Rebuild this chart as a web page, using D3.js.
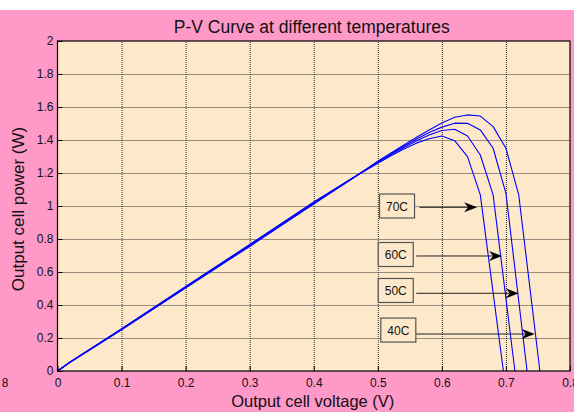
<!DOCTYPE html>
<html>
<head>
<meta charset="utf-8">
<script src="https://cdn.jsdelivr.net/npm/d3@7"></script>
<style>
  html, body { margin: 0; padding: 0; background: #fff; }
  svg { display: block; }
  text { font-family: "Liberation Sans", Arial, sans-serif; }
</style>
</head>
<body>
<script>
// ---- data ----
const temps = ["40C", "50C", "60C", "70C"];
const v40 = [0, 0.02, 0.1, 0.2, 0.3, 0.4, 0.46, 0.5, 0.52, 0.54, 0.56, 0.58, 0.60, 0.62, 0.64, 0.66, 0.68, 0.70, 0.72, 0.753];
const p40 = [0, 0.053, 0.250, 0.503, 0.755, 1.012, 1.165, 1.272, 1.320, 1.368, 1.415, 1.46, 1.503, 1.538, 1.552, 1.545, 1.481, 1.350, 1.067, 0];
const v50 = [0, 0.02, 0.1, 0.2, 0.3, 0.4, 0.46, 0.5, 0.52, 0.54, 0.56, 0.58, 0.60, 0.62, 0.64, 0.66, 0.68, 0.70, 0.733];
const p50 = [0, 0.054, 0.252, 0.506, 0.759, 1.016, 1.167, 1.268, 1.315, 1.361, 1.405, 1.445, 1.478, 1.502, 1.501, 1.461, 1.350, 1.077, 0];
const v60 = [0, 0.02, 0.1, 0.2, 0.3, 0.4, 0.46, 0.5, 0.52, 0.54, 0.56, 0.58, 0.60, 0.62, 0.64, 0.66, 0.68, 0.714];
const p60 = [0, 0.055, 0.254, 0.509, 0.763, 1.020, 1.168, 1.264, 1.310, 1.353, 1.394, 1.430, 1.458, 1.465, 1.424, 1.309, 1.067, 0];
const v70 = [0, 0.02, 0.1, 0.2, 0.3, 0.4, 0.46, 0.5, 0.52, 0.54, 0.56, 0.58, 0.60, 0.62, 0.64, 0.66, 0.696];
const p70 = [0, 0.056, 0.256, 0.512, 0.767, 1.024, 1.168, 1.259, 1.303, 1.344, 1.381, 1.408, 1.424, 1.396, 1.299, 1.067, 0];

const xTicks = [0, 0.1, 0.2, 0.3, 0.4, 0.5, 0.6, 0.7, 0.8];
const yTicks = [0, 0.2, 0.4, 0.6, 0.8, 1, 1.2, 1.4, 1.6, 1.8, 2];

// annotations: label box centre and arrow (data units)
const labelText = ["70C", "60C", "50C", "40C"];
const labelV = [0.530, 0.528, 0.528, 0.532];
const labelP = [1.0, 0.706, 0.488, 0.248];
const arrowFromV = [0.565, 0.560, 0.560, 0.559];
const arrowToV = [0.655, 0.694, 0.720, 0.745];
const arrowP = [0.992, 0.697, 0.471, 0.224];

const titleText = "P-V Curve at different temperatures";
const xLabel = "Output cell voltage (V)";
const yLabel = "Output cell power (W)";

// ---- drawing ----
const W = 574, H = 412;
const svg = d3.select("body").append("svg").attr("width", W).attr("height", H);

svg.append("rect").attr("x", 0).attr("y", 10).attr("width", W).attr("height", H - 10).attr("fill", "#ff99c8");

const x = d3.scaleLinear().domain([0, 0.8]).range([57.5, 570]);
const y = d3.scaleLinear().domain([0, 2]).range([371, 41]);
const [x0, x1] = x.range(), [y0, y1] = y.range();

svg.append("rect").attr("x", x0).attr("y", y1).attr("width", x1 - x0).attr("height", y0 - y1).attr("fill", "#fde9c9");

// grid
const gx = svg.append("g").attr("transform", `translate(0,${y0})`)
  .call(d3.axisBottom(x).tickValues(xTicks.slice(1, -1)).tickSize(-(y0 - y1)).tickFormat(""));
gx.select(".domain").remove();
gx.selectAll("line").attr("stroke", "#333").attr("stroke-dasharray", "1,1").attr("stroke-width", 1);
const gy = svg.append("g").attr("transform", `translate(${x0},0)`)
  .call(d3.axisLeft(y).tickValues(yTicks.slice(1, -1)).tickSize(-(x1 - x0)).tickFormat(""));
gy.select(".domain").remove();
gy.selectAll("line").attr("stroke", "#333").attr("stroke-dasharray", "1,1").attr("stroke-width", 1);

// curves
const series = [[v40, p40], [v50, p50], [v60, p60], [v70, p70]];
const line = d3.line().x(d => x(d[0])).y(d => y(d[1]));
series.forEach(([vs, ps], i) => {
  svg.append("path").datum(vs.map((v, k) => [v, ps[k]]))
    .attr("d", line).attr("fill", "none").attr("stroke", "#0000ff")
    .attr("stroke-width", 1.1).attr("stroke-linejoin", "round");
});

// axes with inward ticks
const fmt = d => String(+d.toFixed(1));
const ax = svg.append("g").attr("transform", `translate(0,${y0})`)
  .call(d3.axisBottom(x).tickValues(xTicks).tickSize(-5).tickPadding(7).tickFormat(fmt));
ax.select(".domain").remove();
ax.selectAll("line").attr("stroke", "#000");
ax.selectAll("text").attr("font-size", 12).attr("fill", "#111").attr("font-family", "Liberation Sans, Arial, sans-serif");
const ay = svg.append("g").attr("transform", `translate(${x0},0)`)
  .call(d3.axisLeft(y).tickValues(yTicks).tickSize(-5).tickPadding(4).tickFormat(fmt));
ay.select(".domain").remove();
ay.selectAll("line").attr("stroke", "#000");
ay.selectAll("text").attr("font-size", 12).attr("fill", "#111").attr("font-family", "Liberation Sans, Arial, sans-serif");

// box
svg.append("rect").attr("x", x0).attr("y", y1).attr("width", x1 - x0).attr("height", y0 - y1)
  .attr("fill", "none").attr("stroke", "#000").attr("stroke-width", 1.2);

// annotations
labelText.forEach((t, i) => {
  const ya = y(arrowP[i]);
  const xs = x(arrowFromV[i]), xe = x(arrowToV[i]);
  svg.append("line").attr("x1", xs).attr("y1", ya).attr("x2", xe - 9).attr("y2", ya)
    .attr("stroke", "#222").attr("stroke-width", 1);
  svg.append("path")
    .attr("d", `M${xe},${ya} L${xe - 13},${ya - 5} L${xe - 9},${ya} L${xe - 13},${ya + 5} Z`)
    .attr("fill", "#000");
  const cx = x(labelV[i]), cy = y(labelP[i]);
  svg.append("rect").attr("x", cx - 17.5).attr("y", cy - 12).attr("width", 35).attr("height", 24)
    .attr("fill", "#fde9c9").attr("stroke", "#555").attr("stroke-width", 1.2);
  svg.append("text").attr("x", cx).attr("y", cy + 4.5).attr("text-anchor", "middle")
    .attr("font-size", 12).attr("fill", "#111").text(t);
});

// texts
svg.append("text").attr("x", (x0 + x1) / 2 - 2).attr("y", 33).attr("text-anchor", "middle")
  .attr("font-size", 17.5).attr("fill", "#111").text(titleText);
svg.append("text").attr("x", (x0 + x1) / 2 - 1).attr("y", 407).attr("text-anchor", "middle")
  .attr("font-size", 16.5).attr("fill", "#111").text(xLabel);
svg.append("text").attr("transform", `translate(24,${(y0 + y1) / 2 + 3}) rotate(-90)`).attr("text-anchor", "middle")
  .attr("font-size", 17).attr("fill", "#111").text(yLabel);
svg.append("text").attr("x", 8.5).attr("y", 387).attr("text-anchor", "end")
  .attr("font-size", 12).attr("fill", "#111").text("8");
</script>
</body>
</html>
